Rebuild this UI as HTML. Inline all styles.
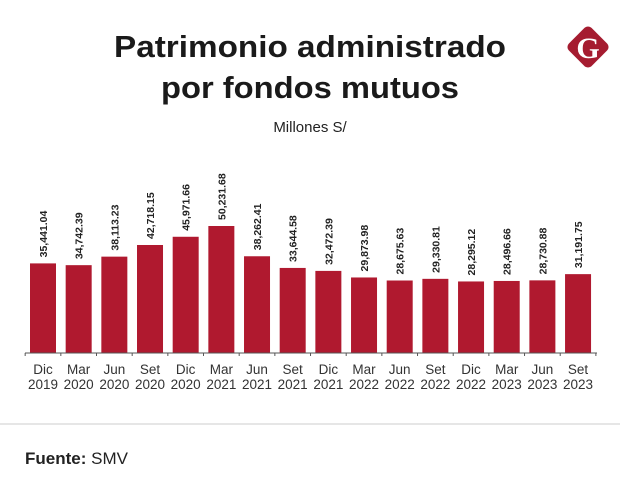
<!DOCTYPE html>
<html><head><meta charset="utf-8">
<style>
html,body{margin:0;padding:0;background:#fff;}
svg{display:block;font-family:"Liberation Sans",sans-serif;}
</style></head>
<body>
<svg id="chart" width="620" height="495" viewBox="0 0 620 495" xmlns="http://www.w3.org/2000/svg">
  <text x="310" y="57" text-anchor="middle" font-size="31" font-weight="bold" fill="#1a1a1a" textLength="392" lengthAdjust="spacingAndGlyphs">Patrimonio administrado</text>
  <text x="310" y="98" text-anchor="middle" font-size="31" font-weight="bold" fill="#1a1a1a" textLength="298" lengthAdjust="spacingAndGlyphs">por fondos mutuos</text>
  <text x="310" y="132" text-anchor="middle" font-size="15" fill="#222">Millones S/</text>
  <g>
    <rect x="572" y="31" width="32" height="32" rx="5" fill="#a51c30" transform="rotate(45 588 47)"/>
    <text x="588" y="58" text-anchor="middle" font-family="Liberation Serif,serif" font-weight="bold" font-size="30" fill="#fff">G</text>
  </g>
  <g id="bars"></g>
  <g id="labels"></g>
  <g id="xaxis"></g>
  <line x1="0" y1="424" x2="620" y2="424" stroke="#ddd" stroke-width="1.5"/>
  <text x="25" y="464" font-size="17" fill="#222"><tspan font-weight="bold">Fuente:</tspan> SMV</text>
</svg>
<script>
const values = [35441.04,34742.39,38113.23,42718.15,45971.66,50231.68,38262.41,33644.58,32472.39,29873.98,28675.63,29330.81,28295.12,28496.66,28730.88,31191.75];
const months = ["Dic","Mar","Jun","Set","Dic","Mar","Jun","Set","Dic","Mar","Jun","Set","Dic","Mar","Jun","Set"];
const years = ["2019","2020","2020","2020","2020","2021","2021","2021","2021","2022","2022","2022","2022","2023","2023","2023"];

const NS="http://www.w3.org/2000/svg";
const baseY=353, scale=127/50231.68, x0=43, step=35.67, bw=26;
function xPos(i){return x0+i*step;}
function yPos(v){return baseY-v*scale;}
function fmt(v){return v.toLocaleString('en-US',{minimumFractionDigits:2,maximumFractionDigits:2});}
const gb=document.getElementById('bars'),gl=document.getElementById('labels'),gx=document.getElementById('xaxis');
values.forEach((v,i)=>{
  const cx=xPos(i);
  const r=document.createElementNS(NS,'rect');
  
  
  r.setAttribute('x',cx-bw/2);r.setAttribute('y',yPos(v));
  r.setAttribute('width',bw);r.setAttribute('height',baseY-yPos(v));
  r.setAttribute('fill','#b0192f');
  gb.appendChild(r);
  const t=document.createElementNS(NS,'text');
  
  
  const ly=yPos(v)-6;
  t.setAttribute('x',cx+4);t.setAttribute('y',ly);
  t.setAttribute('transform','rotate(-90 '+(cx+4)+' '+ly+')');
  t.setAttribute('font-size','10.5');t.setAttribute('font-weight','bold');t.setAttribute('fill','#222');
  t.textContent=fmt(v);
  gl.appendChild(t);
  const m=document.createElementNS(NS,'text');
  
  
  m.setAttribute('x',cx);m.setAttribute('y',374);m.setAttribute('text-anchor','middle');
  m.setAttribute('font-size','13.5');m.setAttribute('fill','#333');
  m.textContent=months[i];gx.appendChild(m);
  const y=document.createElementNS(NS,'text');
  
  
  y.setAttribute('x',cx);y.setAttribute('y',389);y.setAttribute('text-anchor','middle');
  y.setAttribute('font-size','13.5');y.setAttribute('fill','#333');
  y.textContent=years[i];gx.appendChild(y);
});
const ax=document.createElementNS(NS,'line');


ax.setAttribute('x1',25);ax.setAttribute('x2',597);ax.setAttribute('y1',baseY);ax.setAttribute('y2',baseY);
ax.setAttribute('stroke','#555');ax.setAttribute('stroke-width','1');
gx.appendChild(ax);
for(let i=0;i<=values.length;i++){
  const tx=xPos(i)-step/2;
  const tk=document.createElementNS(NS,'line');
  
  
  tk.setAttribute('x1',tx);tk.setAttribute('x2',tx);tk.setAttribute('y1',baseY);tk.setAttribute('y2',baseY+3);
  tk.setAttribute('stroke','#555');
  gx.appendChild(tk);
}
</script>
</body></html>
